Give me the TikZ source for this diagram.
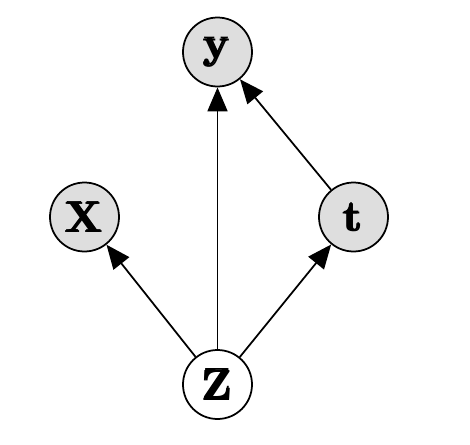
\documentclass[tikz,border=0pt]{standalone}
\usepackage{amsmath,amssymb}
\usepackage{xcolor}
\usepackage{tikz}
\usetikzlibrary{arrows.meta, positioning}

\newcommand{\nodelbl}[1]{$\pmb{\mathbf{#1}}$}

\begin{document}
\begin{tikzpicture}[
  obs/.style  = {circle, draw=black, fill=black!13, line width=1pt,
                 minimum size=1.38cm, inner sep=0, font=\Huge},
  lat/.style  = {circle, draw=black, fill=white, line width=1pt,
                 minimum size=1.38cm, inner sep=0, font=\Huge},
  edge/.style = {-{Triangle[length=0.48cm, width=0.4cm]}, line width=1pt},
]
\useasboundingbox (0,0) rectangle (9.4,-8.88);
% ── nodes ──
\node[obs] (y) at (4.35,-1.04) {\nodelbl{y}};
\node[obs] (x) at (1.69,-4.34) {\nodelbl{X}};
\node[obs] (t) at (7.07,-4.34) {\nodelbl{t}};
\node[lat] (z) at (4.35,-7.69) {\nodelbl{Z}};
% ── edges ──
\draw[edge] (z) -- (x);
\draw[edge] (z) -- (y);
\draw[edge] (z) -- (t);
\draw[edge] (t) -- (y);
\end{tikzpicture}
\end{document}
